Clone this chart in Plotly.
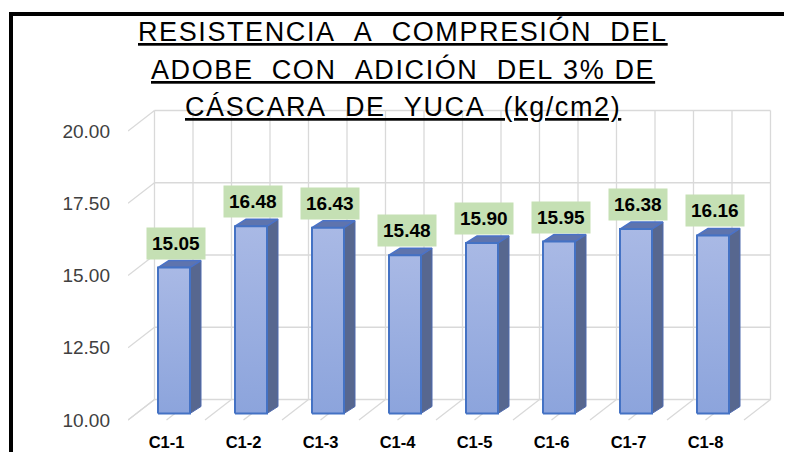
import plotly.graph_objects as go

# datos
categorias = ["C1-1", "C1-2", "C1-3", "C1-4", "C1-5", "C1-6", "C1-7", "C1-8"]
resistencia = [15.05, 16.48, 16.43, 15.48, 15.90, 15.95, 16.38, 16.16]  # kg/cm2
ticks_y = [10.0, 12.5, 15.0, 17.5, 20.0]
titulo = ["RESISTENCIA  A  COMPRESIÓN  DEL",
          "ADOBE  CON  ADICIÓN  DEL 3% DE",
          "CÁSCARA  DE  YUCA  (kg/cm2)"]

FUENTE = "Liberation Sans, Arial, sans-serif"

# geometría en px de la ventana; la página deja 8 px de margen en el body
W, H = 792, 452
OFF = 8
PLOT_L, PLOT_R, PLOT_T, PLOT_B = 128, 774, 100, 423
ML = PLOT_L - OFF
MR = W - (PLOT_R - OFF)
MT = PLOT_T - OFF
MB = H - (PLOT_B - OFF)
PX_CAT = 77.0      # px por categoría
PX_VAL = 28.9      # px por unidad de resistencia
ancho = W - ML - MR
alto = H - MT - MB
x0 = -0.5
y0 = ticks_y[0] - 3 / PX_VAL
rango_x = [x0, x0 + ancho / PX_CAT]
rango_y = [y0, y0 + alto / PX_VAL]


def px_x(p):
    return (p - PLOT_L) / ancho


def px_y(p):
    return (PLOT_B - p) / alto


# profundidad de la pared (perspectiva oblicua) en unidades de datos
DX = 26.5 / PX_CAT
DY = 20.5 / PX_VAL
# barras
B_ANCHO = 32 / PX_CAT
B_OFFX = 7.5 / PX_CAT
B_OFFY = 6.5 / PX_VAL
B_DX = 11 / PX_CAT
B_DY = 7 / PX_VAL

GRIS = "#D9D9D9"

fig = go.Figure()

# rejilla: pared del fondo, pared izquierda y suelo
n = len(categorias)
gx, gy = [], []
xa, xb = -0.5, n - 0.5
for v in ticks_y:
    gx += [xa + DX, xb + DX, None, xa, xa + DX, None]
    gy += [v + DY, v + DY, None, v, v + DY, None]
k = 0
while xa + k * 0.5 <= xb + 1e-9:
    xv = xa + k * 0.5
    gx += [xv + DX, xv + DX, None, xv, xv + DX, None]
    gy += [ticks_y[0] + DY, ticks_y[-1] + DY, None, ticks_y[0], ticks_y[0] + DY, None]
    k += 1
fig.add_trace(go.Scatter(x=gx, y=gy, mode="lines", line=dict(color=GRIS, width=1.3),
                         hoverinfo="skip", showlegend=False))

# barras 3D
for i, v in enumerate(resistencia):
    xl = i + B_OFFX - B_ANCHO / 2
    xr = i + B_OFFX + B_ANCHO / 2
    yb = ticks_y[0] + B_OFFY
    yt = v + B_OFFY
    # cara lateral
    fig.add_trace(go.Scatter(
        x=[xr, xr + B_DX, xr + B_DX, xr, xr],
        y=[yb, yb + B_DY, yt + B_DY, yt, yb],
        mode="lines", fill="toself", fillcolor="#57678F",
        line=dict(color="#4F6AAE", width=1), hoverinfo="skip", showlegend=False))
    # cara superior
    fig.add_trace(go.Scatter(
        x=[xl, xr, xr + B_DX, xl + B_DX, xl],
        y=[yt, yt, yt + B_DY, yt + B_DY, yt],
        mode="lines", fill="toself", fillcolor="#5E74AE",
        line=dict(color="#4A72C8", width=1.5), hoverinfo="skip", showlegend=False))
    # cara frontal
    fig.add_trace(go.Scatter(
        x=[xl, xr, xr, xl, xl],
        y=[yb, yb, yt, yt, yb],
        mode="lines", fill="toself",
        fillgradient=dict(type="vertical", colorscale=[[0, "#8CA4DC"], [1, "#A9B9E5"]]),
        line=dict(color="#4472C4", width=2), hoverinfo="skip", showlegend=False))
    # etiqueta
    fig.add_annotation(
        x=i + B_OFFX + 1.5 / PX_CAT, y=yt + B_DY, xref="x", yref="y",
        text="<b>%.2f</b>" % v, showarrow=False, yanchor="bottom", yshift=1,
        bgcolor="#C5E0B4", borderpad=5,
        font=dict(family=FUENTE, size=19, color="#000000"))

# título subrayado
for j, linea in enumerate(titulo):
    py = 31.5 + 37.5 * j
    txt = linea.replace(" ", "\u00a0")
    fig.add_annotation(
        x=px_x(402.5), y=px_y(py), xref="paper", yref="paper",
        text='<u><span style="letter-spacing:1.6px">%s</span></u>' % txt,
        showarrow=False, xanchor="center", yanchor="middle",
        font=dict(family=FUENTE, size=27, color="#000000"))

# marco negro
fig.add_shape(type="line", xref="paper", yref="paper",
              x0=px_x(9), x1=px_x(W + 10), y0=px_y(14), y1=px_y(14),
              line=dict(color="#000000", width=4))
fig.add_shape(type="line", xref="paper", yref="paper",
              x0=px_x(11), x1=px_x(11), y0=px_y(12), y1=px_y(H + 10),
              line=dict(color="#000000", width=4))

fig.update_layout(
    width=W, height=H,
    margin=dict(l=ML, r=MR, t=MT, b=MB, pad=0, autoexpand=False),
    paper_bgcolor="white", plot_bgcolor="rgba(0,0,0,0)",
    showlegend=False,
    font=dict(family=FUENTE),
    xaxis=dict(range=rango_x, tickvals=list(range(n)), ticktext=categorias,
               showgrid=False, zeroline=False, showline=False, ticks="",
               automargin=False, ticklabelstandoff=7,
               tickfont=dict(family=FUENTE, size=16.5, color="#000000", weight="bold")),
    yaxis=dict(range=rango_y, tickvals=ticks_y, tickformat=".2f",
               showgrid=False, zeroline=False, showline=False, ticks="",
               automargin=False, ticklabelstandoff=17,
               tickfont=dict(family=FUENTE, size=19, color="#404040")),
)

fig.write_html("out.html")
